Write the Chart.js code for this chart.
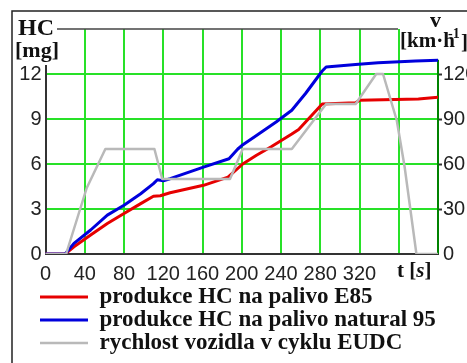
<!DOCTYPE html>
<html>
<head>
<meta charset="utf-8">
<script src="https://cdn.jsdelivr.net/npm/chart.js@4.4.1/dist/chart.umd.min.js"></script>
<style>
  body { margin: 0; background: #fff; }
  #myChart { display: block; }
</style>
</head>
<body>
<canvas id="myChart" width="467" height="363"></canvas>
<script>
"use strict";

// HC production, fuel E85  [s] -> [mg]
const timeE85 = [0, 20, 29, 46, 63, 80, 97, 110, 117, 127, 161, 186, 201, 215, 230, 251, 258, 270, 282, 316, 320, 380, 400];
const hcE85 = [0, 0, 0.48, 1.26, 2.03, 2.7, 3.36, 3.85, 3.88, 4.08, 4.58, 5.13, 6.0, 6.58, 7.15, 8.0, 8.3, 9.15, 10.0, 10.08, 10.25, 10.33, 10.45];

// HC production, fuel natural 95
const timeN95 = [0, 20, 29, 46, 63, 80, 97, 110, 114, 120, 127, 161, 187, 196, 200, 215, 235, 251, 265, 282, 286, 316, 339, 377, 400];
const hcN95 = [0, 0, 0.71, 1.6, 2.59, 3.25, 4.02, 4.69, 4.95, 4.88, 5.02, 5.79, 6.35, 7.0, 7.23, 7.9, 8.8, 9.58, 10.7, 12.2, 12.47, 12.64, 12.75, 12.86, 12.92];

// vehicle speed in EUDC cycle  [s] -> [km/h]
const timeEUDC = [0, 21, 42, 61, 111, 119, 188, 201, 251, 286, 316, 337, 344, 358, 366, 378, 400];
const speedEUDC = [0, 0, 44, 70, 70, 50, 50, 70, 70, 100, 100, 120, 120, 89, 58, 0, 0];

const labels = [
    'produkce HC na palivo E85',
    'produkce HC na palivo natural 95',
    'rychlost vozidla v cyklu EUDC'
];

const xTicks = [0, 40, 80, 120, 160, 200, 240, 280, 320];
const hcTicks = [0, 3, 6, 9, 12];
const speedTicks = [0, 30, 60, 90, 120];

const green = 'rgb(40,225,40)';
const tickFont = {family: "'Liberation Sans Narrow', 'Liberation Sans', Arial, sans-serif", size: 20};
const serif = "'Liberation Serif', 'Times New Roman', serif";

function toPoints(xs, ys) {
    return xs.map((x, i) => ({x: x, y: ys[i]}));
}

const decorations = {
    id: 'decorations',
    afterLayout(chart) {
        // legend lines start at x=40, a bit lower than the default spot
        chart.legend.left = 40;
        chart.legend.top += 1.5;
    },
    beforeDatasetsDraw(chart) {
        const ctx = chart.ctx;
        const y = chart.scales.y;
        const a = chart.chartArea;
        ctx.save();
        ctx.lineWidth = 2;
        // left axis
        ctx.strokeStyle = '#333';
        ctx.beginPath();
        ctx.moveTo(a.left + 0.5, y.getPixelForValue(12.6));
        ctx.lineTo(a.left + 0.5, a.bottom);
        ctx.stroke();
        // right axis
        ctx.strokeStyle = 'rgb(0,130,0)';
        ctx.beginPath();
        ctx.moveTo(a.right, y.getPixelForValue(12.95));
        ctx.lineTo(a.right, a.bottom);
        ctx.stroke();
        // top line
        ctx.strokeStyle = '#444';
        ctx.lineWidth = 1.5;
        ctx.beginPath();
        ctx.moveTo(57, a.top);
        ctx.lineTo(398, a.top);
        ctx.stroke();
        ctx.restore();
    },
    afterDraw(chart) {
        const ctx = chart.ctx;
        ctx.save();
        ctx.strokeStyle = '#222';
        ctx.lineWidth = 1.5;
        ctx.strokeRect(12, 11, 600, 600);
        ctx.fillStyle = '#111';
        ctx.textBaseline = 'alphabetic';
        ctx.textAlign = 'left';
        ctx.font = 'bold 24px ' + serif;
        ctx.fillText('HC', 18, 35);
        ctx.font = 'bold 22px ' + serif;
        ctx.fillText('[mg]', 15, 57);
        ctx.fillText('v', 430, 27);
        ctx.font = 'bold 21px ' + serif;
        ctx.fillText('[km\u00B7h', 400, 47);
        ctx.fillText(']', 461, 49);
        ctx.font = 'bold 14px ' + serif;
        ctx.fillText('-1', 448, 38);
        ctx.font = 'bold 21px ' + serif;
        ctx.fillText('t [', 397, 277);
        let w = ctx.measureText('t [').width;
        ctx.font = 'italic bold 21px ' + serif;
        ctx.fillText('s', 397 + w, 277);
        w += ctx.measureText('s').width;
        ctx.font = 'bold 21px ' + serif;
        ctx.fillText(']', 397 + w, 277);
        ctx.restore();
    }
};

const ctx = document.getElementById('myChart');

const chart = new Chart(ctx, {
    type: 'line',
    data: {
        datasets: [{
            label: labels[0],
            data: toPoints(timeE85, hcE85),
            borderColor: 'rgb(230,0,0)',
            backgroundColor: 'rgb(230,0,0)',
            borderWidth: 3,
            yAxisID: 'y',
            order: 2
        }, {
            label: labels[1],
            data: toPoints(timeN95, hcN95),
            borderColor: 'rgb(0,0,220)',
            backgroundColor: 'rgb(0,0,220)',
            borderWidth: 3,
            yAxisID: 'y',
            order: 1
        }, {
            label: labels[2],
            data: toPoints(timeEUDC, speedEUDC),
            borderColor: 'rgb(185,185,185)',
            backgroundColor: 'rgb(185,185,185)',
            borderWidth: 2.5,
            yAxisID: 'y2',
            order: 0
        }]
    },
    options: {
        responsive: false,
        animation: false,
        devicePixelRatio: 1,
        elements: {
            point: {radius: 0},
            line: {tension: 0, borderJoinStyle: 'round', borderCapStyle: 'round'}
        },
        layout: {padding: {left: 0, top: 29, right: 0, bottom: 0}},
        plugins: {
            tooltip: {enabled: false},
            legend: {
                position: 'bottom',
                align: 'start',
                labels: {
                    usePointStyle: true,
                    pointStyle: 'line',
                    pointStyleWidth: 48,
                    padding: 0,
                    color: '#111',
                    font: {family: serif, size: 23, weight: 'bold'},
                    sort: (a, b) => a.datasetIndex - b.datasetIndex
                }
            }
        },
        scales: {
            x: {
                type: 'linear',
                min: 0,
                max: 400,
                afterBuildTicks: (scale) => {
                    scale.ticks = [0, 40, 80, 120, 160, 200, 240, 280, 320, 360, 400].map(v => ({value: v}));
                },
                afterFit: (scale) => { scale.height = 30; },
                ticks: {
                    autoSkip: false,
                    maxRotation: 0,
                    padding: 8,
                    color: '#222',
                    font: tickFont,
                    callback: (v) => xTicks.includes(v) ? String(v) : ''
                },
                grid: {
                    drawTicks: false,
                    color: (c) => (c.tick && c.tick.value > 0 && c.tick.value < 400) ? green : 'rgba(0,0,0,0)',
                    lineWidth: 2
                },
                border: {display: true, color: '#333', width: 2}
            },
            y: {
                position: 'left',
                min: 0,
                max: 15,
                afterBuildTicks: (scale) => {
                    scale.ticks = [0, 3, 6, 9, 12, 15].map(v => ({value: v}));
                },
                afterFit: (scale) => { scale.width = 45.5; },
                ticks: {
                    padding: 4,
                    color: '#222',
                    font: tickFont,
                    callback: (v) => hcTicks.includes(v) ? String(v) : ''
                },
                grid: {
                    drawTicks: false,
                    color: (c) => (c.tick && c.tick.value > 0 && c.tick.value < 15) ? green : 'rgba(0,0,0,0)',
                    lineWidth: 2
                },
                border: {display: false}
            },
            y2: {
                position: 'right',
                min: 0,
                max: 150,
                afterBuildTicks: (scale) => {
                    scale.ticks = [0, 30, 60, 90, 120, 150].map(v => ({value: v}));
                },
                afterFit: (scale) => { scale.width = 29; },
                ticks: {
                    padding: 1,
                    color: '#222',
                    font: tickFont,
                    callback: (v) => speedTicks.includes(v) ? String(v) : ''
                },
                grid: {
                    drawOnChartArea: false,
                    drawTicks: true,
                    tickLength: 4,
                    tickWidth: 2,
                    tickColor: (c) => (c.tick && c.tick.value > 0 && c.tick.value < 150) ? '#333' : 'rgba(0,0,0,0)'
                },
                border: {display: false}
            }
        }
    },
    plugins: [decorations]
});
</script>
</body>
</html>
